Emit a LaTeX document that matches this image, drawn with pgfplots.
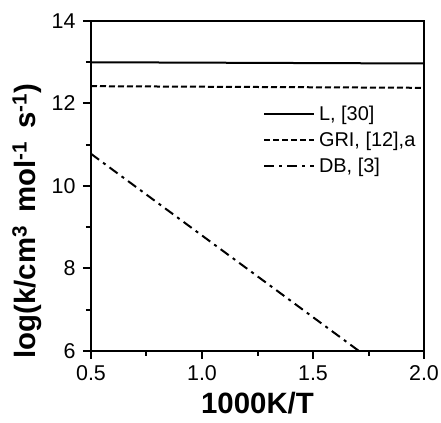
\documentclass[border=0pt]{standalone}
\usepackage{fontspec}
\setmainfont{Liberation Sans}
\usepackage{pgfplots}
\pgfplotsset{compat=1.18}
\begin{document}
\begin{tikzpicture}
\begin{axis}[
 scale only axis, width=333bp, height=330bp,
 xmin=0.5, xmax=2.0, ymin=6, ymax=14,
 xtick={0.5,1.0,1.5,2.0}, ytick={6,8,10,12,14},
 minor xtick={0.75,1.25,1.75}, minor ytick={7,9,11,13},
 xticklabels={0.5,1.0,1.5,2.0},
 tick align=outside, tick pos=left,
 major tick length=8bp, minor tick length=5bp,
 every tick/.style={line width=2bp, black},
 axis line style={line width=2.5bp},
 tick label style={font=\fontsize{21.5}{24}\selectfont},
 yticklabel style={xshift=-4bp},
 xticklabel style={yshift=-3bp},
 /pgf/number format/assume math mode=true,
 xlabel={1000K/T},
 ylabel={log(k/cm\textsuperscript{3}\, mol\textsuperscript{-1}\, s\textsuperscript{-1})},
 label style={font=\fontsize{29.5}{32}\selectfont\bfseries},
 xlabel style={at={(axis description cs:0.5,-0.188)}, anchor=base},
 ylabel style={at={(axis description cs:-0.192,0.394)}, anchor=center},
 legend style={draw=none, fill=none, at={(rel axis cs:0.516,0.748)}, anchor=north west,
   font=\fontsize{20}{24}\selectfont, row sep=6bp, inner sep=0pt},
 legend cell align=left,
 legend image code/.code={\draw[#1] (0bp,0bp) -- (50bp,0bp); \path (52bp,0bp);},
]
\coordinate (sw) at (rel axis cs:0,0);
\coordinate (ne) at (rel axis cs:1,1);
\addplot[black, line width=2bp] coordinates {(0.5,13.00) (2.0,12.97)};
\addlegendentry{L, [30]}
\addplot[black, line width=2bp, dash pattern=on 6bp off 3bp] coordinates {(0.5,12.42) (2.0,12.38)};
\addlegendentry{GRI, [12],a}
\addplot[black, line width=2bp, dash pattern=on 10bp off 5bp on 3bp off 5bp] coordinates {(0.5,10.78) (1.707,6.0)};
\addlegendentry{DB, [3]}
\end{axis}
\pgfresetboundingbox
\useasboundingbox ([shift={(-91bp,-72bp)}]sw) rectangle ([shift={(17bp,21bp)}]ne);
\end{tikzpicture}
\end{document}
